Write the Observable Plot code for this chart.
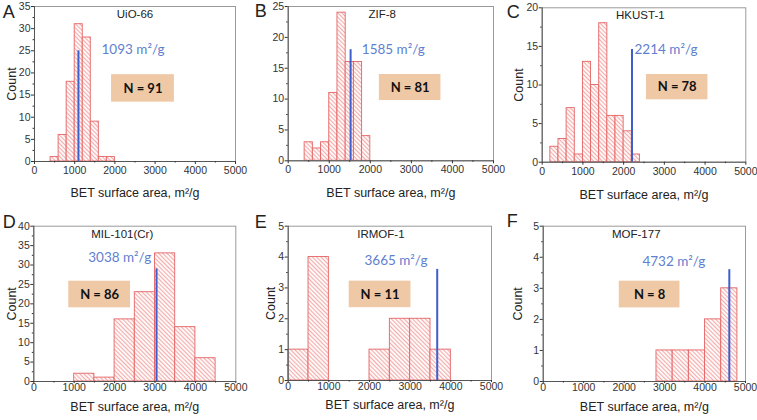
<!DOCTYPE html>
<html><head><meta charset="utf-8">
<script src="https://cdn.jsdelivr.net/npm/d3@7"></script>
<script src="https://cdn.jsdelivr.net/npm/@observablehq/plot@0.6"></script>
<style>
html,body{margin:0;padding:0;background:#fff;}
#fig{position:relative;width:757px;height:420px;overflow:hidden;font-family:"Liberation Sans",Arial,sans-serif;}
.panel{position:absolute;}
.panel svg{overflow:visible;}
#overlay{position:absolute;left:0;top:0;pointer-events:none;}
</style></head><body>
<svg width="0" height="0" style="position:absolute">
<defs>
<pattern id="hatch" patternUnits="userSpaceOnUse" width="3" height="3" patternTransform="rotate(-45)">
<rect width="3" height="3" fill="#fff6f6"/>
<line x1="0.5" y1="0" x2="0.5" y2="3" stroke="#ee9a9a" stroke-width="0.8"/>
</pattern></defs></svg>
<div id="fig"></div>
<script>
// ---------- data ----------
const letters = ["A","B","C","D","E","F"];
const mofNames = ["UiO-66","ZIF-8","HKUST-1","MIL-101(Cr)","IRMOF-1","MOF-177"];
const binStart = [400, 400, 200, 1000, 0, 2800];
const binWidth = [200, 200, 200, 500, 500, 400];
const countsA = [1, 6, 18, 31, 28, 9, 1, 1];
const countsB = [3, 2, 3, 11, 24, 16, 16, 4];
const countsC = [2, 3, 7, 1, 13, 10, 18, 6, 6, 4, 1];
const countsD = [2, 1, 16, 23, 33, 14, 6];
const countsE = [1, 4, 0, 0, 1, 2, 2, 1];
const countsF = [1, 1, 1, 2, 3];
const reportedBET = [1093, 1585, 2214, 3038, 3665, 4732];
const lineAt = [1093, 1520, 2205, 3038, 3665, 4600];
const lineTop = [25, 18, 14.6, 29, 3.6, 3.6];
const sampleN = [91, 81, 78, 86, 11, 8];
const yMax = [35, 25, 20, 40, 5, 5];
const yStep = [5, 5, 5, 5, 1, 1];
const xTicks = [0, 1000, 2000, 3000, 4000, 5000];
const xLabel = "BET surface area, m²/g";
const yLabel = "Count";
const countsAll = [countsA, countsB, countsC, countsD, countsE, countsF];

// ---------- layout (positions / styles) ----------
const layout = [
  {left:0,   top:0,   width:252, mL:34,   mR:17,   mT:6,    mB:49,   countDx:-22.4, xlabDy:35,   titleX:2500, labX:2450, labY:24.3, box:[1917,3480,13.4,19.6], xtick:[3,2], showCount:true},
  {left:252, top:0,   width:252, mL:35.7, mR:11,   mT:6,    mB:49.7, countDx:-22,   xlabDy:36.4, titleX:2290, labX:2560, labY:17.3, box:[2220,3720,9.77,13.98], xtick:[3,2], showCount:false},
  {left:504, top:0,   width:253, mL:37.7, mR:11.7, mT:7.3,  mB:48.3, countDx:-23.5, xlabDy:36.3, titleX:2410, labX:3040, labY:14.0, box:[2560,4070,8.08,11.36], xtick:[3,2], showCount:true},
  {left:0,   top:210, width:252, mL:33.3, mR:16.7, mT:15.7, mB:39,   countDx:-22,   xlabDy:29,   titleX:2190, labX:2126, labY:30.7, box:[866,2394,18.98,25.83], xtick:[2,0], showCount:true},
  {left:252, top:210, width:252, mL:35.7, mR:13,   mT:15.7, mB:40,   countDx:-17,   xlabDy:28,   titleX:2280, labX:2650, labY:3.73, box:[1500,3020,2.36,3.22], xtick:[2,0], showCount:true},
  {left:504, top:210, width:253, mL:38.7, mR:12,   mT:15.7, mB:39,   countDx:-25.4, xlabDy:29,   titleX:2300, labX:3230, labY:3.73, box:[1880,3380,2.37,3.23], xtick:[2,0], showCount:true}
];
const letterPos = [[2.7,18.3],[254.7,17.3],[506.7,17.7],[2.7,228.3],[254.7,228.3],[506.7,227.3]];

const fig = document.getElementById("fig");

function bins(i) {
  return countsAll[i]
    .map((c, k) => ({x1: binStart[i] + k * binWidth[i], x2: binStart[i] + (k + 1) * binWidth[i], y: c}))
    .filter(d => d.y > 0);
}

layout.forEach((L, i) => {
  const yTicks = d3.range(0, yMax[i] + 1e-9, yStep[i]);
  const yMinor = d3.range(yStep[i] / 2, yMax[i], yStep[i]);
  const xMinor = d3.range(500, 5000, 1000);
  const boxD = [{x1: L.box[0], x2: L.box[1], y1: L.box[2], y2: L.box[3]}];
  const marks = [
    Plot.rectY(bins(i), {x1: "x1", x2: "x2", y: "y", fill: "url(#hatch)", stroke: "#e46464", strokeWidth: 0.9}),
    Plot.ruleX([lineAt[i]], {x: d => d, y1: 0, y2: lineTop[i], stroke: "#3d5fcb", strokeWidth: 2}),
    Plot.rect(boxD, {x1: "x1", x2: "x2", y1: "y1", y2: "y2", fill: "#efc8a6"}),
    Plot.text(boxD, {x: d => (d.x1 + d.x2) / 2, y: d => (d.y1 + d.y2) / 2, text: () => `N = ${sampleN[i]}`,
      fontFamily: "Lato, 'Open Sans', sans-serif", fontWeight: "bold", fontSize: 13, fill: "#111", lineAnchor: "middle"}),
    Plot.text([`${reportedBET[i]} m²/g`], {x: () => L.labX, y: () => L.labY, text: d => d,
      fontFamily: "Lato, 'Open Sans', sans-serif", fontSize: 13.5, fill: "#5f7fd0", lineAnchor: "bottom"}),
    Plot.text([mofNames[i]], {x: () => L.titleX, frameAnchor: "top", dy: 11.5, text: d => d,
      fontSize: 11.5, fill: "#222", lineAnchor: "bottom"}),
    Plot.frame({stroke: "#9a9a9a", strokeWidth: 1}),
    Plot.ruleX([0], {stroke: "#555"}),
    Plot.ruleY([0], {stroke: "#555"}),
    Plot.axisX(xTicks, {tickSize: L.xtick[0], tickPadding: L.xtick[1], tickFormat: d => String(d), label: null, fontSize: 10.5}),
    Plot.axisX(xMinor, {tickSize: 1.5, tickFormat: () => "", label: null}),
    Plot.axisY(yTicks, {tickSize: 3, tickPadding: 1, tickFormat: d => String(d), label: null, fontSize: 10.5}),
    Plot.axisY(yMinor, {tickSize: 1.5, tickFormat: () => "", label: null}),
    Plot.text([xLabel], {frameAnchor: "bottom", dy: L.xlabDy, text: d => d, fontSize: 12.5, fill: "#222", lineAnchor: "bottom"})
  ];
  if (L.showCount) {
    marks.push(Plot.text([yLabel], {frameAnchor: "left", dx: L.countDx, rotate: -90, text: d => d,
      fontSize: 12.5, fill: "#222", lineAnchor: "middle", textAnchor: "middle"}));
  }
  const chart = Plot.plot({
    width: L.width, height: 210,
    marginLeft: L.mL, marginRight: L.mR, marginTop: L.mT, marginBottom: L.mB,
    x: {domain: [0, 5000]},
    y: {domain: [0, yMax[i]]},
    style: {fontFamily: "'Liberation Sans', Arial, sans-serif", fontSize: "10.5px", color: "#333", overflow: "visible", background: "transparent"},
    marks
  });
  const div = document.createElement("div");
  div.className = "panel";
  div.style.left = L.left + "px";
  div.style.top = L.top + "px";
  div.appendChild(chart);
  fig.appendChild(div);
});

// panel letters
const ns = "http://www.w3.org/2000/svg";
const ov = document.createElementNS(ns, "svg");
ov.setAttribute("id", "overlay");
ov.setAttribute("width", 757);
ov.setAttribute("height", 420);
letters.forEach((l, i) => {
  const t = document.createElementNS(ns, "text");
  t.setAttribute("x", letterPos[i][0]);
  t.setAttribute("y", letterPos[i][1]);
  t.setAttribute("font-size", 18);
  t.setAttribute("font-family", "'Liberation Sans', Arial, sans-serif");
  t.setAttribute("fill", "#222");
  t.textContent = l;
  ov.appendChild(t);
});
fig.appendChild(ov);
</script>
</body></html>
